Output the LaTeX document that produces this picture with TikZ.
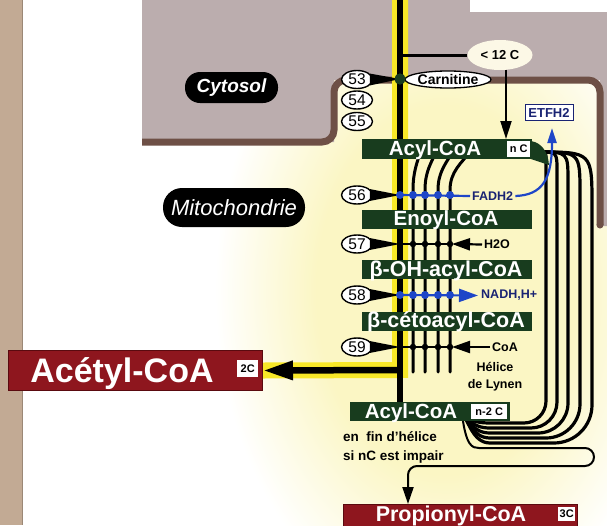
\documentclass[tikz,border=0pt]{standalone}
\usepackage{fontspec}
\setmainfont{Liberation Sans}
\usetikzlibrary{arrows.meta,shapes.geometric}
\definecolor{cyto}{RGB}{187,173,174}
\definecolor{memb}{RGB}{110,80,70}
\definecolor{tanstrip}{RGB}{194,170,148}
\definecolor{dgreen}{RGB}{24,60,30}
\definecolor{dred}{RGB}{142,22,30}
\definecolor{dredb}{RGB}{90,10,15}
\definecolor{navy}{RGB}{25,35,115}
\definecolor{bblue}{RGB}{30,70,200}
\definecolor{ylw}{RGB}{248,232,40}
\definecolor{glow}{RGB}{251,246,196}
\definecolor{cream}{RGB}{252,248,230}
\pgfdeclareradialshading{glowshade}{\pgfpoint{0bp}{0bp}}{color(0bp)=(glow); color(14bp)=(glow); color(25bp)=(white); color(50bp)=(white)}
\pgfdeclarelayer{back}
\pgfdeclarelayer{lines}
\pgfsetlayers{back,lines,main}
\begin{document}
\begin{tikzpicture}[x=1pt,y=-1pt,
  gbox/.style={fill=dgreen,inner sep=0pt,anchor=north west},
  rbox/.style={fill=dred,draw=dredb,line width=1pt,inner sep=0pt,anchor=north west},
  wtag/.style={fill=white,inner sep=0pt,anchor=north west,font=\bfseries\fontsize{11}{11}\selectfont},
  gtext/.style={text=white,inner sep=0pt,anchor=base,font=\bfseries\fontsize{20.5}{20}\selectfont},
  numel/.style={ellipse,draw=black,line width=1.4pt,fill=white,minimum width=31pt,minimum height=18pt,inner sep=0pt,font=\fontsize{15.5}{15}\selectfont},
  lbl/.style={inner sep=0pt,font=\bfseries\fontsize{12.5}{12}\selectfont},
  bluelbl/.style={lbl,text=navy},
  strand/.style={line width=3pt,line cap=round},
  loopline/.style={line width=3.2pt},
  bdot/.style={circle,fill=bblue,inner sep=0pt,minimum size=8pt},
  kdot/.style={circle,fill=black,inner sep=0pt,minimum size=6.5pt},
  pill/.style={fill=black,text=white,rounded corners=#1,inner sep=0pt},
  wedgefill/.style={fill=black},
  kline/.style={line width=2.2pt},
  blline/.style={bblue,line width=2.2pt}
]
\useasboundingbox (0,0) rectangle (607,525);
\clip (0,0) rectangle (607,525);
\begin{pgfonlayer}{back}
\fill[white] (0,0) rectangle (607,525);
\shade[shading=glowshade] (445,290) ellipse (230pt and 330pt);
\fill[tanstrip] (0,0) rectangle (22,525);
\draw[tanstrip!80!black,line width=0.8pt] (22,0) -- (22,525);
\fill[cyto] (142,0) -- (607,0) -- (607,226) -- (600,226) -- (600,80) -- (334,80) -- (334,142) -- (142,142) -- cycle;
\fill[white] (470,0) rectangle (607,12);
\draw[memb,line width=7pt,rounded corners=12pt] (142,142) -- (334,142) -- (334,80) -- (600,80) -- (600,225);
\fill[memb] (600,225) circle (3.5pt);
\end{pgfonlayer}

% pills
\node[pill=15pt,minimum width=93pt,minimum height=31pt,font=\bfseries\itshape\fontsize{19}{19}\selectfont] (cyt) at (231.5,87.5) {Cytosol};
\node[pill=19pt,minimum width=142pt,minimum height=39pt,font=\itshape\fontsize{22}{22}\selectfont] (mito) at (234,207.5) {Mitochondrie};

% coordinates on main line
\coordinate (mtop) at (400,-5);
\coordinate (m12) at (400,55);
\coordinate (m56) at (400,195);
\coordinate (m57) at (400,244);
\coordinate (m58) at (400,295);
\coordinate (m59) at (400,347);
\coordinate (macet) at (400,370);
\coordinate (mbot) at (400,403);
\coordinate (tail) at (538,152);
\coordinate (conv) at (462,414);
\coordinate (e57) at (452,244);
\coordinate (e59) at (452,347);
\coordinate (pin) at (408,504);

% boxes
\node[gbox,minimum width=170pt,minimum height=20pt] (b1) at (362,139) {};
\node[gtext] (t1) at (435,155.5) {Acyl-CoA};
\node[wtag,minimum width=23pt,minimum height=16pt] (tagn) at (507,141) {n C};
\node[gbox,minimum width=170pt,minimum height=18.5pt] (b2) at (362,210) {};
\node[gtext] (t2) at (446,225.5) {Enoyl-CoA};
\node[gbox,minimum width=170pt,minimum height=18.5pt] (b3) at (362,260) {};
\node[gtext,font=\bfseries\fontsize{21.5}{20}\selectfont] (t3) at (446,276) {β-OH-acyl-CoA};
\node[gbox,minimum width=170pt,minimum height=18.5pt] (b4) at (362,312) {};
\node[gtext,font=\bfseries\fontsize{21.5}{20}\selectfont] (t4) at (446,327.5) {β-cétoacyl-CoA};
\node[gbox,minimum width=160pt,minimum height=19pt] (b5) at (350,402) {};
\node[gtext] (t5) at (411,418) {Acyl-CoA};
\node[wtag,minimum width=36pt,minimum height=15pt] (tag5) at (471,404) {n-2 C};
\fill[dgreen] (531,141) .. controls (542,143) and (548,152) .. (549,165) -- (531,159) -- cycle;

\node[rbox,minimum width=254pt,minimum height=40pt] (acetyl) at (8,350) {};
\node[gtext,font=\bfseries\fontsize{34}{34}\selectfont] (tacetyl) at (122,382) {Acétyl-CoA};
\node[wtag,minimum width=21pt,minimum height=17pt] (tag2c) at (237,360) {2C};

\node[rbox,minimum width=234pt,minimum height=30pt] (prop) at (343,504) {};
\node[gtext,font=\bfseries\fontsize{21.5}{20}\selectfont] (tprop) at (451,521) {Propionyl-CoA};
\node[wtag,minimum width=17pt,minimum height=14pt] (tag3c) at (558,507) {3C};

% top labels
\node[ellipse,fill=cream,minimum width=65pt,minimum height=30pt,inner sep=0pt,font=\bfseries\fontsize{13}{13}\selectfont] (lt12) at (500,55) {< 12 C};
\node[ellipse,draw=black,line width=1.3pt,fill=white,minimum width=86pt,minimum height=17pt,inner sep=0pt,font=\bfseries\fontsize{14}{14}\selectfont] (carn) at (448,79.5) {Carnitine};
\node[circle,fill=dgreen,inner sep=0pt,minimum size=11pt] (junc) at (400,79) {};
\node[draw=navy,line width=1pt,fill=white,text=navy,font=\bfseries\fontsize{13}{13}\selectfont,minimum width=48pt,minimum height=16pt,inner sep=0pt] (etf) at (549,112.5) {ETFH2};

% number ellipses
\node[numel] (n53) at (357,79.5) {53};
\node[numel] (n54) at (357,100) {54};
\node[numel] (n55) at (357,121.5) {55};
\node[numel] (n56) at (357,195) {56};
\node[numel] (n57) at (357,244) {57};
\node[numel] (n58) at (357,295) {58};
\node[numel] (n59) at (357,347) {59};

% side labels
\node[bluelbl,anchor=west] (fadh) at (472,196) {FADH2};
\node[lbl,anchor=west] (h2o) at (484,244.5) {H2O};
\node[bluelbl,anchor=west] (nadh) at (481,295.5) {NADH,H+};
\node[lbl,anchor=west] (coa) at (492,347) {CoA};
\node[lbl,align=center,font=\bfseries\fontsize{12.5}{17}\selectfont] (helix) at (495,376.5) {Hélice\\de Lynen};
\node[lbl,align=left,anchor=west,font=\bfseries\fontsize{13.5}{19}\selectfont] (note) at (343,447.5) {en\ \ fin d'hélice\\si nC est impair};

\begin{pgfonlayer}{lines}
\draw[ylw,line width=16pt] (mtop) -- (macet) -- (acetyl.east);
\draw[line width=6.5pt] (mtop) -- (mbot);
\draw[line width=6.5pt,-{Triangle[length=30pt,width=18pt]}] (macet) -- (acetyl.east);
\draw[line width=3pt] (m12) -- (lt12.west);
\draw[line width=2pt,-{Triangle[length=18pt,width=11pt]}] ([xshift=6pt]lt12.south) -- ([xshift=6pt]lt12.south |- b1.north);
\foreach \x/\k in {413/4,425/6,438/8,450/11} {
  \draw[strand] (\x,372) -- (\x,190) .. controls (\x,172) and ({\x+\k},163) .. ({\x+2*\k},150);
}
\foreach \x/\y/\r in {546/423/22,557/428/26,568/433/30,580/438/34,592/443/38} {
  \draw[loopline] (tail) .. controls (\x,152) .. (\x,{152+\x-538}) -- (\x,{\y-\r}) .. controls (\x,{\y-0.448*\r}) and ({\x-0.448*\r},\y) .. ({\x-\r},\y) -- (490,\y) .. controls (472,\y) and (468,418) .. (conv);
}
\draw[line width=2pt,rounded corners=9pt,-{Triangle[length=17pt,width=11pt]}] (conv) .. controls (466,446) and (472,448) .. (488,448) -- (594,448) -- (594,466) -- (408,466) -- (pin);
\draw[blline] (m56) -- ([xshift=-2pt]fadh.west);
\draw[kline] (m57) -- (e57);
\draw[kline,-{Triangle[length=18pt,width=12pt]}] ([xshift=-2pt]h2o.west) -- (e57);
\draw[blline,-{Triangle[length=19pt,width=13pt]}] (m58) -- ([xshift=-3pt]nadh.west);
\draw[kline] (m59) -- (e59);
\draw[kline,-{Triangle[length=18pt,width=12pt]}] ([xshift=-2pt]coa.west) -- (e59);
\draw[blline,-{Triangle[length=15pt,width=9pt]}] ([xshift=2pt]fadh.east) .. controls (542,195) and (552,180) .. ([xshift=3pt,yshift=-7pt]etf.south);
\end{pgfonlayer}

% wedges
\fill[wedgefill] (n53.25) -- (junc.center) -- (n53.-25) -- cycle;
\fill[wedgefill] (n56.25) -- (m56) -- (n56.-25) -- cycle;
\fill[wedgefill] (n57.25) -- (m57) -- (n57.-25) -- cycle;
\fill[wedgefill] (n58.25) -- (m58) -- (n58.-25) -- cycle;
\fill[wedgefill] (n59.25) -- (m59) -- (n59.-25) -- cycle;
\node[circle,fill=dgreen,inner sep=0pt,minimum size=11pt] (junc2) at (junc) {};

% dots
\foreach \x [count=\i] in {400,413,425,438,450} {
  \node[bdot] (d56-\i) at (\x,195) {};
  \node[kdot] (d57-\i) at (\x,244) {};
  \node[bdot] (d58-\i) at (\x,295) {};
  \node[kdot] (d59-\i) at (\x,347) {};
}
\end{tikzpicture}
\end{document}
